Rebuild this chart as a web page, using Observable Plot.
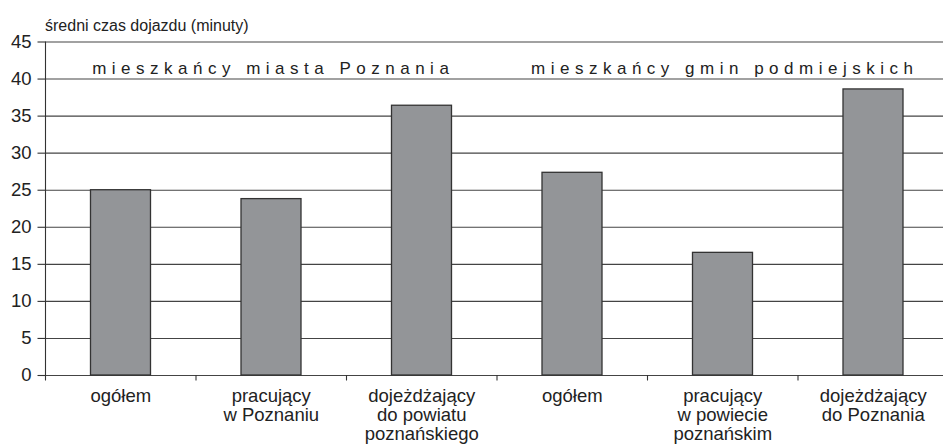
<!DOCTYPE html>
<html><head><meta charset="utf-8">
<script src="https://cdn.jsdelivr.net/npm/d3@7"></script>
<script src="https://cdn.jsdelivr.net/npm/@observablehq/plot@0.6"></script>
<style>
body{margin:0;background:#fff;font-family:"Liberation Sans",Arial,sans-serif;position:relative;}
#title{position:absolute;left:45px;top:18px;font-size:16px;color:#222;line-height:1;white-space:nowrap;}
.grp text{letter-spacing:5.5px;}
</style></head><body>
<div id="chart"></div>
<div id="title">średni czas dojazdu (minuty)</div>
<script>
const categories = ["ogółem", "pracujący\nw Poznaniu", "dojeżdżający\ndo powiatu\npoznańskiego", "ogółem", "pracujący\nw powiecie\npoznańskim", "dojeżdżający\ndo Poznania"];
const values = [25.0, 23.8, 36.4, 27.35, 16.55, 38.6];
const groups = ["mieszkańcy miasta Poznania", "mieszkańcy gmin podmiejskich"];
const yTicks = [0, 5, 10, 15, 20, 25, 30, 35, 40, 45];

const rows = categories.map((label, i) => ({i, label, value: values[i]}));
const groupRows = groups.map((label, g) => ({g, label}));
const perGroup = categories.length / groups.length;

const chart = Plot.plot({
  width: 943,
  height: 444,
  marginTop: 41.5,
  marginBottom: 69,
  marginLeft: 45,
  marginRight: 0,
  style: {fontFamily: '"Liberation Sans", Arial, sans-serif', color: "#222", background: "#fff", overflow: "visible"},
  x: {domain: [0, categories.length], range: [45, 948]},
  y: {domain: [0, 45]},
  marks: [
    Plot.ruleY(yTicks, {stroke: "#444", strokeWidth: 1.1}),
    Plot.rectY(rows, {x1: d => d.i, x2: d => d.i + 1, y: "value", insetLeft: 45.5, insetRight: 45, fill: "#939598", stroke: "#333", strokeWidth: 1.3}),
    Plot.ruleX([0], {stroke: "#333", strokeWidth: 1.1}),
    Plot.axisY({ticks: yTicks, tickSize: 7.5, tickPadding: 6.5, fontSize: 18.5, label: null, stroke: "#333", strokeWidth: 1.1}),
    Plot.axisX({ticks: d3.range(categories.length + 1), tickSize: 5.5, tickFormat: () => "", label: null, stroke: "#333", strokeWidth: 1.1}),
    Plot.text(rows, {x: d => d.i + 0.5, y: 0, text: "label", lineAnchor: "top", dy: 13, fontSize: 18.5, lineHeight: 1.03, fill: "#222"}),
    Plot.text(groupRows, {x: d => d.g * perGroup + perGroup / 2, frameAnchor: "top", dy: 20, dx: 2, text: "label", fontSize: 17, fill: "#222", className: "grp"})
  ]
});
document.getElementById("chart").appendChild(chart);
</script>
</body></html>
